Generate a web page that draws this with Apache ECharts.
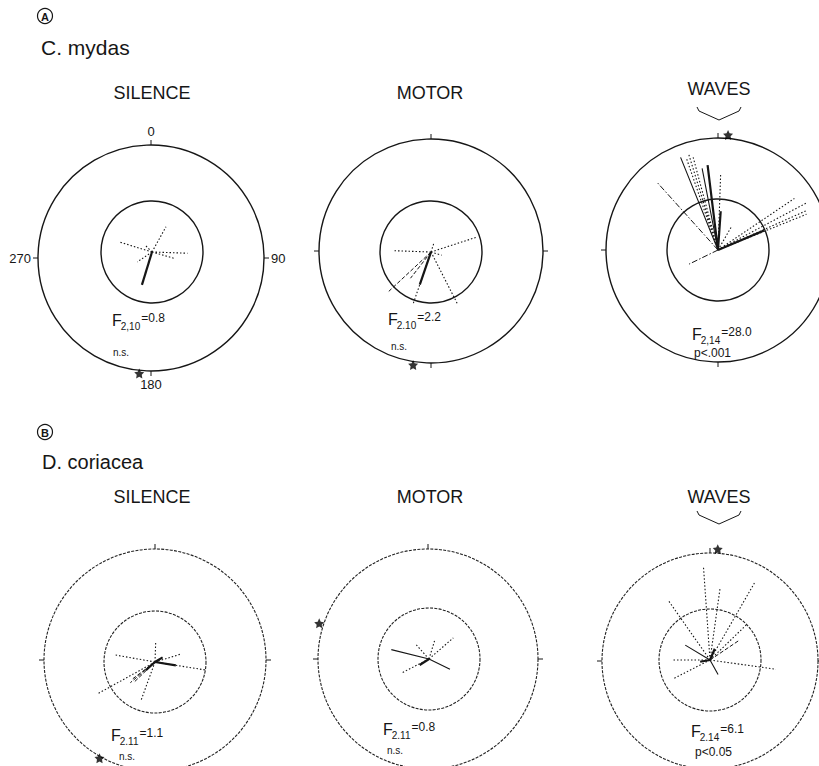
<!DOCTYPE html>
<html>
<head>
<meta charset="utf-8">
<script src="https://cdn.jsdelivr.net/npm/echarts@6/dist/echarts.min.js"></script>
<style>
  html, body { margin: 0; background: #fff; }
  #chart { width: 819px; height: 766px; }
</style>
</head>
<body>
<div id="chart"></div>
<script>
// text
const species = ['C. mydas', 'D. coriacea'];
const conditions = ['SILENCE', 'MOTOR', 'WAVES'];
const fDf = ['2,10', '2.10', '2,14', '2.11', '2.11', '2.14'];
const fValue = ['0.8', '2.2', '28.0', '1.1', '0.8', '6.1'];
const pText = ['n.s.', 'n.s.', 'p<.001', 'n.s.', 'n.s.', 'p<0.05'];

// vectors: [bearing in degrees, length as share of outer circle]
const mydasSilenceMain = [[197, 0.31]];
const mydasSilenceDotted = [[29, 0.26], [287, 0.31], [92, 0.32], [106, 0.22], [236, 0.16], [315, 0.08]];

const mydasMotorMain = [[199, 0.31]];
const mydasMotorDotted = [[272, 0.34], [72, 0.43], [18, 0.09], [107, 0.10], [199, 0.49], [153, 0.53]];
const mydasMotorDashed = [[227, 0.52], [218, 0.30]];

const mydasWavesMain = [[353, 0.77], [67, 0.45], [4, 0.35]];
const mydasWavesThin = [[338, 0.90], [349, 0.75]];
const mydasWavesDotted = [[341, 0.88], [343, 0.90], [345, 0.88], [2, 0.68], [62, 0.90], [66, 0.88], [68, 0.86], [56, 0.83], [30, 0.25]];
const mydasWavesDashDot = [[318, 0.82], [244, 0.29]];

const coriaceaSilenceMain = [[99, 0.19], [59, 0.08], [228, 0.11]];
const coriaceaSilenceDotted = [[280, 0.36], [73, 0.24], [99, 0.46], [241, 0.59], [200, 0.37], [2, 0.18]];
const coriaceaSilenceDashed = [[226, 0.27], [230, 0.29], [233, 0.25]];

const coriaceaMotorMain = [[237, 0.10]];
const coriaceaMotorThin = [[284, 0.35], [116, 0.21]];
const coriaceaMotorDotted = [[243, 0.28], [49, 0.29], [318, 0.17], [17, 0.17]];

const coriaceaWavesMain = [[23, 0.11], [260, 0.09]];
const coriaceaWavesThin = [[301, 0.26], [151, 0.15]];
const coriaceaWavesDotted = [[46, 0.46], [30, 0.80], [8, 0.65], [356, 0.84], [325, 0.66], [270, 0.33], [98, 0.60], [243, 0.37], [325, 0.31]];
const coriaceaWavesDashed = [[56, 0.32]];

// mean bearing markers (stars): bearing and distance from centre
const meanBearing = [186, 189, 5, 210, 288, 4];
const meanDistance = [1.1, 1.03, 1.04, 1.0, 1.04, 1.0];

const INK = '#161616';
const UNIT = 111;          // px of one length unit
const VMAX = 1.2;          // extent of the hidden vector scale
const R_IN = 51;
const FONT = 'Liberation Sans, Arial, sans-serif';

const styles = {
  main: { width: 2.2, type: 'solid' },
  thin: { width: 1.1, type: 'solid' },
  dotted: { width: 1.1, type: [1.5, 2] },
  dashed: { width: 1, type: [4, 2] },
  dashdot: { width: 1, type: [6, 2, 1.5, 2] }
};

const panels = [
  { center: [152, 252], outer: [151, 258], r: 113, groups: { main: mydasSilenceMain, dotted: mydasSilenceDotted } },
  { center: [431, 252], outer: [431, 251], r: 112, groups: { main: mydasMotorMain, dotted: mydasMotorDotted, dashed: mydasMotorDashed } },
  { center: [718, 250], outer: [718, 250], r: 112, groups: { main: mydasWavesMain, thin: mydasWavesThin, dotted: mydasWavesDotted, dashdot: mydasWavesDashDot } },
  { center: [155, 662], outer: [155, 660], r: 111, groups: { main: coriaceaSilenceMain, dotted: coriaceaSilenceDotted, dashed: coriaceaSilenceDashed } },
  { center: [429, 659], outer: [428, 659], r: 110, groups: { main: coriaceaMotorMain, thin: coriaceaMotorThin, dotted: coriaceaMotorDotted } },
  { center: [710, 660], outer: [710, 661], r: 108, groups: { main: coriaceaWavesMain, thin: coriaceaWavesThin, dotted: coriaceaWavesDotted, dashed: coriaceaWavesDashed } }
];

function spokes(list) {
  const out = [];
  list.forEach(([deg, len]) => { out.push([0, deg], [len, deg], '-'); });
  return out;
}

const polar = [], angleAxis = [], radiusAxis = [], series = [];

function angleBase(idx) {
  return { polarIndex: idx, type: 'value', min: 0, max: 360, interval: 90, startAngle: 90, clockwise: true, splitLine: { show: false } };
}

panels.forEach((p, i) => {
  const rowB = i >= 3;
  const circleStyle = rowB
    ? { color: '#222', width: 1.1, type: [3, 1.3] }
    : { color: INK, width: 1.4, type: 'solid' };
  const k0 = 3 * i;
  // outer circle with the four compass ticks
  polar.push({ center: p.outer, radius: p.r });
  angleAxis.push(Object.assign(angleBase(k0), {
    axisLine: { lineStyle: circleStyle },
    axisTick: { show: true, length: 5, inside: false, lineStyle: { color: INK, width: 1 } },
    axisLabel: { show: i === 0, margin: 7, color: INK, fontSize: 13, fontFamily: FONT }
  }));
  radiusAxis.push({ polarIndex: k0, type: 'value', min: 0, max: 1, show: false });
  // inner circle
  polar.push({ center: p.center, radius: R_IN });
  angleAxis.push(Object.assign(angleBase(k0 + 1), {
    axisLine: { lineStyle: circleStyle }, axisTick: { show: false }, axisLabel: { show: false }
  }));
  radiusAxis.push({ polarIndex: k0 + 1, type: 'value', min: 0, max: 1, show: false });
  // hidden scale for the vectors and the mean-bearing star
  polar.push({ center: p.center, radius: UNIT * VMAX });
  angleAxis.push(Object.assign(angleBase(k0 + 2), { show: false }));
  radiusAxis.push({ polarIndex: k0 + 2, type: 'value', min: 0, max: VMAX, show: false });

  Object.keys(p.groups).forEach(k => {
    series.push({
      type: 'line', coordinateSystem: 'polar', polarIndex: k0 + 2,
      data: spokes(p.groups[k]), symbol: 'none', clip: false, silent: true,
      lineStyle: { color: INK, width: styles[k].width, type: styles[k].type }
    });
  });
  series.push({
    type: 'scatter', coordinateSystem: 'polar', polarIndex: k0 + 2, clip: false, silent: true,
    symbol: 'path://M0,-10 L2.9,-4 9.5,-3.1 4.8,1.5 5.9,8.1 0,5 -5.9,8.1 -4.8,1.5 -9.5,-3.1 -2.9,-4 Z',
    symbolSize: 10, itemStyle: { color: '#000' },
    data: [[meanDistance[i], meanBearing[i]]]
  });
});

// annotation layout
const titleX = [152, 430, 719];
const titleY = [[93, 93, 89], [497, 497, 497]];
const statPos = [[112, 320], [388, 319], [692, 334], [111, 735], [383, 729], [691, 731]];
const pPos = [[113, 352], [391, 346], [694, 353], [119, 756], [387, 750], [695, 752]];

const measure = document.createElement('canvas').getContext('2d');
function textWidth(t, size) { measure.font = size + 'px ' + FONT; return measure.measureText(t).width; }

const graphic = [];
function circled(letter, x, y) {
  graphic.push({ type: 'circle', shape: { cx: x, cy: y, r: 7.5 }, style: { fill: 'none', stroke: INK, lineWidth: 1.2 } });
  graphic.push({ type: 'text', x: x, y: y + 0.5, style: { text: letter, fontSize: 11, fontWeight: 'bold', fontFamily: FONT, fill: INK, align: 'center', verticalAlign: 'middle' } });
}
circled('A', 45, 16);
circled('B', 45, 432);
graphic.push({ type: 'text', x: 41, y: 47, style: { text: species[0], fontSize: 21, fontFamily: FONT, fill: INK, verticalAlign: 'middle' } });
graphic.push({ type: 'text', x: 42, y: 462, style: { text: species[1], fontSize: 20, fontFamily: FONT, fill: INK, verticalAlign: 'middle' } });

for (let row = 0; row < 2; row++) {
  conditions.forEach((c, j) => {
    graphic.push({ type: 'text', x: titleX[j], y: titleY[row][j], style: { text: c, fontSize: 18, fontFamily: FONT, fill: INK, align: 'center', verticalAlign: 'middle' } });
  });
  // bracket under WAVES
  const by = row === 0 ? 110 : 514;
  graphic.push({
    type: 'polyline',
    shape: { points: [[697, by - 3], [699, by + 1], [719, by + 10], [739, by + 1], [741, by - 3]] },
    style: { fill: 'none', stroke: INK, lineWidth: 1 }
  });
}

statPos.forEach(([x, y], i) => {
  const fw = textWidth('F', 16);
  const sw = textWidth(fDf[i], 10);
  graphic.push({ type: 'text', x: x, y: y, style: { text: 'F', fontSize: 16, fontFamily: FONT, fill: INK, verticalAlign: 'middle' } });
  graphic.push({ type: 'text', x: x + fw - 1, y: y + 6, style: { text: fDf[i], fontSize: 10, fontFamily: FONT, fill: INK, verticalAlign: 'middle' } });
  graphic.push({ type: 'text', x: x + fw + sw, y: y - 2, style: { text: '=' + fValue[i], fontSize: 12, fontFamily: FONT, fill: INK, verticalAlign: 'middle' } });
  graphic.push({ type: 'text', x: pPos[i][0], y: pPos[i][1], style: { text: pText[i], fontSize: i === 2 || i === 5 ? 12 : 10, fontFamily: FONT, fill: INK, verticalAlign: 'middle' } });
});

const chart = echarts.init(document.getElementById('chart'), null, { renderer: 'svg' });
chart.setOption({
  backgroundColor: '#fff',
  animation: false,
  polar: polar,
  angleAxis: angleAxis,
  radiusAxis: radiusAxis,
  series: series,
  graphic: graphic
});
</script>
</body>
</html>
